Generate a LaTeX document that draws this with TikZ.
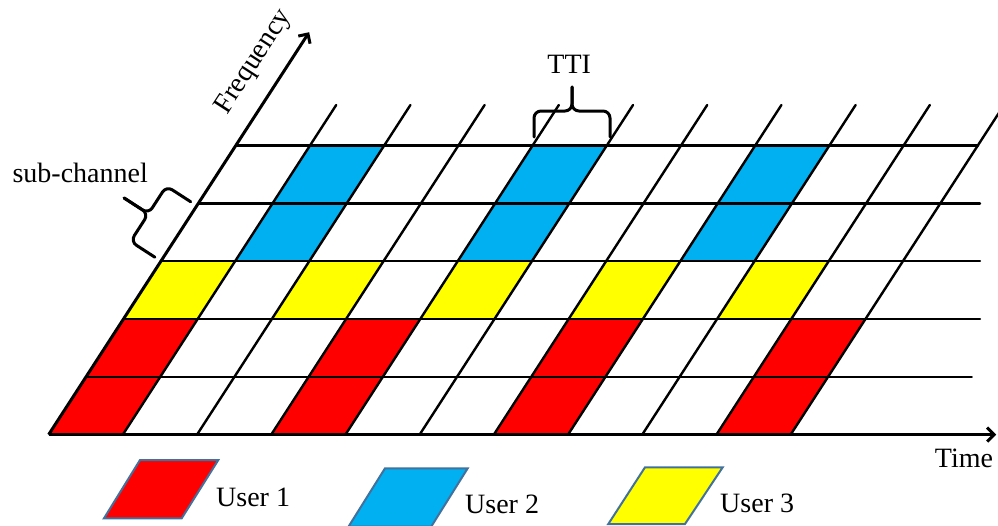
\documentclass[tikz,border=0pt]{standalone}
\usepackage{fontspec}
\setmainfont{Liberation Serif}
\usetikzlibrary{arrows.meta}
\definecolor{ured}{HTML}{FF0000}
\definecolor{ublue}{HTML}{00B0F0}
\definecolor{uyellow}{HTML}{FFFF00}
\definecolor{edgeblue}{HTML}{41719C}
\begin{document}
\begin{tikzpicture}[x=1pt,y=-1pt,
  gridline/.style={line width=2.4pt,black,line cap=round},
  axisline/.style={line width=3pt,black,-{Straight Barb[length=7pt,width=14pt]}},
  bracepath/.style={line width=3pt,black,rounded corners=7pt,line cap=round},
  lbl/.style={font=\fontsize{28}{32}\selectfont,inner sep=0pt},
  cellfill/.style={fill=#1,draw=edgeblue,line width=1pt},
  legendbox/.style={fill=#1,draw=edgeblue,line width=2pt,line join=miter}]
\useasboundingbox (0,0) rectangle (998,525);
\clip (0,0) rectangle (998,525);

% slanted time-frequency grid
\begin{scope}[shift={(48.7,434.5)}, x={(74.2pt,0pt)}, y={(37.42pt,57.8pt)}]
  \foreach \c in {0,3,6,9}{\foreach \r in {0,1}{
    \draw[cellfill=ured] (\c,\r) -- ++(1,0) -- ++(0,1) -- ++(-1,0) -- cycle;}}
  \foreach \c in {0,2,4,6,8}{
    \draw[cellfill=uyellow] (\c,2) -- ++(1,0) -- ++(0,1) -- ++(-1,0) -- cycle;}
  \foreach \c in {1,4,7}{\foreach \r in {3,4}{
    \draw[cellfill=ublue] (\c,\r) -- ++(1,0) -- ++(0,1) -- ++(-1,0) -- cycle;}}
  % column lines
  \foreach \k in {1,...,10} \draw[gridline] (\k,0) -- (\k,5.701);
  % row lines
  \foreach \r/\e in {1/11.935,2/11.543,3/11.038,4/10.534,5/10.003}
    \draw[gridline] (0,\r) -- (\e,\r);
  % axes
  \coordinate (origin) at (0,0);
  \coordinate (ttip) at (12.77,0);
  \coordinate (ftip) at (0,6.96);
  \draw[axisline] (origin) -- (ttip);
  \draw[axisline] (origin) -- (ftip);
\end{scope}

% TTI brace
\draw[bracepath] (534,137) -- (534,111) -- (572,111) -- (572,87);
\draw[bracepath] (610,137) -- (610,111) -- (572,111) -- (572,87);

% sub-channel brace
\begin{scope}[shift={(172.8,229.5)}, rotate=57.1]
  \draw[bracepath] (-33,0) -- (-33,-29) -- (0,-29) -- (0,-58);
  \draw[bracepath] (33,0) -- (33,-29) -- (0,-29) -- (0,-58);
\end{scope}

% labels
\node[lbl, anchor=base] (subch) at (80.2,182.5) {sub-channel};
\node[lbl, anchor=base] (tti) at (569.2,73.3) {TTI};
\node[lbl, anchor=base] (time) at (964,467.7) {Time};
\node[lbl, anchor=base, rotate=57.1] (freq) at (259.3,65.4) {Frequency};

% legend
\draw[legendbox=ured] (104,518.3) -- (181.7,518.3) -- (218.3,460) -- (140,460) -- cycle;
\draw[legendbox=ublue] (348.6,526.5) -- (431.3,526.5) -- (467.7,468.3) -- (385,468.3) -- cycle;
\draw[legendbox=uyellow] (608.3,524) -- (685,524) -- (722.7,467.3) -- (645,467.3) -- cycle;
\node[lbl, anchor=base west] (u1) at (216,506.7) {User 1};
\node[lbl, anchor=base west] (u2) at (465,513.3) {User 2};
\node[lbl, anchor=base west] (u3) at (720,512.3) {User 3};
\end{tikzpicture}
\end{document}
